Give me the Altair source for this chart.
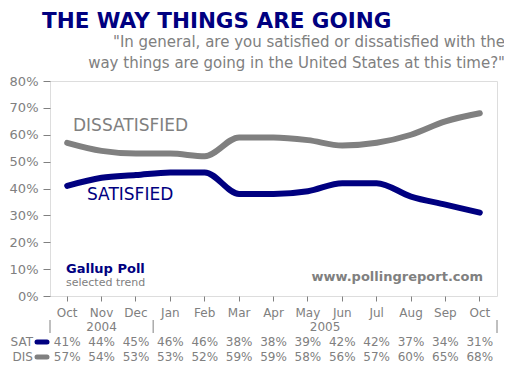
import altair as alt
import pandas as pd

# ---- data ----
month_ids = ["Oct 2004", "Nov 2004", "Dec 2004", "Jan 2005", "Feb 2005", "Mar 2005",
             "Apr 2005", "May 2005", "Jun 2005", "Jul 2005", "Aug 2005", "Sep 2005", "Oct 2005"]
month_labels = ["Oct", "Nov", "Dec", "Jan", "Feb", "Mar", "Apr", "May", "Jun", "Jul", "Aug", "Sep", "Oct"]
satisfied = [41, 44, 45, 46, 46, 38, 38, 39, 42, 42, 37, 34, 31]
dissatisfied = [57, 54, 53, 53, 52, 59, 59, 58, 56, 57, 60, 65, 68]
y_ticks = [0, 10, 20, 30, 40, 50, 60, 70, 80]

NAVY = "#000080"
GRAY = "#808080"
FONT = "DejaVu Sans"

df = pd.DataFrame({"m": month_ids, "mon": month_labels, "sat": satisfied, "dis": dissatisfied})
df["sat_t"] = [f"{v}%" for v in satisfied]
df["dis_t"] = [f"{v}%" for v in dissatisfied]

xscale = alt.Scale(type="band", domain=month_ids, paddingInner=0, paddingOuter=0)
yscale = alt.Scale(domain=[0, 80], nice=False, zero=True)
xaxis = alt.Axis(labels=False, title=None, domain=False, ticks=True, tickSize=5,
                 tickColor=GRAY, grid=False, bandPosition=0.5)
yaxis = alt.Axis(values=y_ticks, tickCount=9, labelExpr="datum.value + '%'", title=None, grid=False,
                 domain=False, tickColor=GRAY, tickSize=7, labelPadding=5,
                 labelOverlap=False, labelColor=GRAY, labelFont=FONT, labelFontSize=13)


def X(bp=None):
    if bp is None:
        return alt.X("m:N", scale=xscale, sort=month_ids, axis=xaxis)
    return alt.X("m:N", scale=xscale, sort=month_ids, axis=xaxis, bandPosition=bp)


base = alt.Chart(df)

dis_line = base.mark_line(color=GRAY, strokeWidth=6, interpolate="monotone", strokeCap="round").encode(
    x=X(), y=alt.Y("dis:Q", scale=yscale, axis=yaxis))
sat_line = base.mark_line(color=NAVY, strokeWidth=6, interpolate="monotone", strokeCap="round").encode(
    x=X(), y=alt.Y("sat:Q", scale=yscale, axis=yaxis))

txt = dict(font=FONT, fontSize=12, color=GRAY, align="center", baseline="alphabetic")
month_row = base.mark_text(**txt).encode(x=X(), y=alt.value(236), text="mon:N")
sat_row = base.mark_text(**txt).encode(x=X(), y=alt.value(265), text="sat_t:N")
dis_row = base.mark_text(**txt).encode(x=X(), y=alt.value(280), text="dis_t:N")

# year row
sep_left = alt.Chart(pd.DataFrame({"m": ["Oct 2004", "Jan 2005"]})).mark_rule(color=GRAY, strokeWidth=1).encode(
    x=X(0), y=alt.value(239), y2=alt.value(252))
sep_right = alt.Chart(pd.DataFrame({"m": ["Oct 2005"]})).mark_rule(color=GRAY, strokeWidth=1).encode(
    x=X(1), y=alt.value(239), y2=alt.value(252))
y2004 = alt.Chart(pd.DataFrame({"m": ["Nov 2004"], "t": ["2004"]})).mark_text(**txt).encode(
    x=X(0.5), y=alt.value(250), text="t:N")
y2005 = alt.Chart(pd.DataFrame({"m": ["Jun 2005"], "t": ["2005"]})).mark_text(**txt).encode(
    x=X(0), y=alt.value(250), text="t:N")


def note(text, x, y, **kw):
    return alt.Chart(pd.DataFrame({"t": [text]})).mark_text(font=FONT, baseline="alphabetic", **kw).encode(
        text="t:N", x=alt.value(x), y=alt.value(y))


def swatch(color, y):
    return alt.Chart(pd.DataFrame({"t": [0]})).mark_rule(color=color, strokeWidth=5, strokeCap="round").encode(
        x=alt.value(-13), x2=alt.value(-3), y=alt.value(y))


notes = [
    note("THE WAY THINGS ARE GOING", -8, -53, fontSize=21.5, fontWeight="bold", color=NAVY, align="left"),
    note("\"In general, are you satisfied or dissatisfied with the", 455, -34, fontSize=15, color=GRAY, align="right"),
    note("way things are going in the United States at this time?\"", 455, -13, fontSize=15, color=GRAY, align="right"),
    note("DISSATISFIED", 23, 50, fontSize=17, color=GRAY, align="left"),
    note("SATISFIED", 37, 119, fontSize=17, color=NAVY, align="left"),
    note("Gallup Poll", 16, 192, fontSize=13, fontWeight="bold", color=NAVY, align="left"),
    note("selected trend", 16, 205, fontSize=11, color=GRAY, align="left"),
    note("www.pollingreport.com", 433, 200, fontSize=13, fontWeight="bold", color=GRAY, align="right"),
    note("SAT", -17, 265, fontSize=12, color=GRAY, align="right"),
    note("DIS", -17, 280, fontSize=12, color=GRAY, align="right"),
    swatch(NAVY, 261),
    swatch(GRAY, 276),
]

chart = alt.layer(
    dis_line, sat_line, month_row, sat_row, dis_row, sep_left, sep_right, y2004, y2005, *notes
).properties(
    width=447, height=215,
    padding={"left": 42, "top": 73, "right": 7, "bottom": 67},
    autosize=alt.AutoSizeParams(type="none"),
).configure_view(stroke=GRAY, strokeWidth=1).configure(background="white")

chart.save("out.html", embed_options={"renderer": "svg", "actions": False})
